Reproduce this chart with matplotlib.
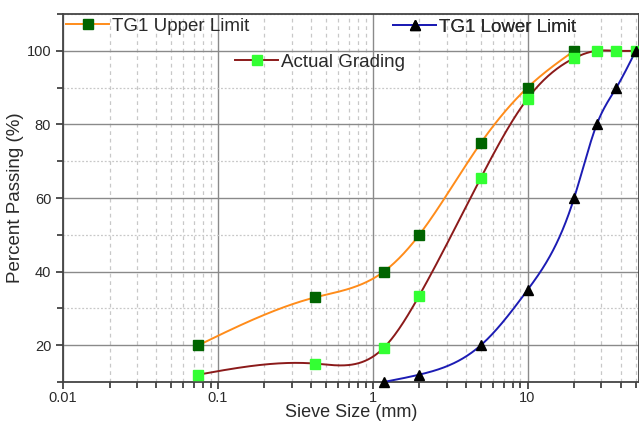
import numpy as np
import matplotlib
matplotlib.use("Agg")
import matplotlib.pyplot as plt
from matplotlib.ticker import FixedLocator, LogLocator, NullFormatter, FixedFormatter
from matplotlib.lines import Line2D

plt.rcParams['font.family'] = ['Liberation Sans', 'DejaVu Sans']

# ---- data ----
upper_sieve = [0.075, 0.425, 1.18, 2.0, 5.0, 10.0, 20.0]
upper_pass = [20, 33, 40, 50, 75, 90, 100]

actual_sieve = [0.075, 0.425, 1.18, 2.0, 5.0, 10.0, 20.0, 28.0, 37.5, 50.0]
actual_pass = [12, 15, 19.3, 33.5, 65.5, 87, 98, 100, 100, 100]

lower_sieve = [1.18, 2.0, 5.0, 10.0, 20.0, 28.0, 37.5, 50.0]
lower_pass = [10, 12, 20, 35, 60, 80, 90, 100]

x_ticks = [0.01, 0.1, 1, 10]
x_tick_labels = ["0.01", "0.1", "1", "10"]
y_ticks = [20, 40, 60, 80, 100]
y_minor = [10, 30, 50, 70, 90, 110]


def spline_curve(xs, ys, n=400):
    """Natural cubic spline through the points in log10(x) space (spline connection)."""
    t = np.log10(np.asarray(xs, float))
    y = np.asarray(ys, float)
    m = len(t)
    h = np.diff(t)
    A = np.zeros((m, m))
    b = np.zeros(m)
    A[0, 0] = 1
    A[-1, -1] = 1
    for i in range(1, m - 1):
        A[i, i - 1] = h[i - 1]
        A[i, i] = 2 * (h[i - 1] + h[i])
        A[i, i + 1] = h[i]
        b[i] = 6 * ((y[i + 1] - y[i]) / h[i] - (y[i] - y[i - 1]) / h[i - 1])
    M = np.linalg.solve(A, b)
    tt = np.linspace(t[0], t[-1], n)
    out = np.empty_like(tt)
    for k, tv in enumerate(tt):
        i = min(np.searchsorted(t, tv, side='right') - 1, m - 2)
        i = max(i, 0)
        a = t[i + 1] - tv
        c = tv - t[i]
        hi = h[i]
        out[k] = (M[i] * a ** 3 / (6 * hi) + M[i + 1] * c ** 3 / (6 * hi)
                  + (y[i] / hi - M[i] * hi / 6) * a
                  + (y[i + 1] / hi - M[i + 1] * hi / 6) * c)
    return 10 ** tt, out


fig = plt.figure(figsize=(6.39, 4.23), dpi=100)
ax = fig.add_axes([63 / 639, 1 - 382 / 423, 1 - 63 / 639, (382 - 14) / 423])

ax.set_xscale('log')
ax.set_xlim(0.01, 10 ** 1.72)
ax.set_ylim(10, 110)

c_up, c_act, c_low = '#ff8c1a', '#8b1a1a', '#1c1cb4'
m_up, m_act, m_low = '#006400', '#33ff33', 'black'

for xs, ys, lc, mc, mk, ms in [
        (upper_sieve, upper_pass, c_up, m_up, 's', 6.5),
        (actual_sieve, actual_pass, c_act, m_act, 's', 6.5),
        (lower_sieve, lower_pass, c_low, m_low, '^', 7.5)]:
    sx, sy = spline_curve(xs, ys)
    ax.plot(sx, sy, color=lc, lw=1.4, zorder=3, clip_on=False)
    ax.plot(xs, ys, ls='none', marker=mk, ms=ms, color=mc, zorder=4, clip_on=False)

# ticks and grid
ax.xaxis.set_major_locator(FixedLocator(x_ticks))
ax.xaxis.set_major_formatter(FixedFormatter(x_tick_labels))
ax.xaxis.set_minor_locator(LogLocator(base=10, subs=np.arange(2, 10)))
ax.xaxis.set_minor_formatter(NullFormatter())
ax.yaxis.set_major_locator(FixedLocator(y_ticks))
ax.yaxis.set_minor_locator(FixedLocator(y_minor))

ax.grid(which='major', color='#8a8a8a', lw=1.0, ls='-', zorder=1)
ax.xaxis.grid(which='minor', color='#c8c8c8', lw=0.9, ls=(0, (3, 3)))
ax.yaxis.grid(which='minor', color='#c8c8c8', lw=0.9, ls=(0, (1.5, 1.5)))
ax.set_axisbelow(True)

ax.tick_params(which='both', direction='out', top=False, right=False,
               color='#333333', width=1.2, labelsize=10.5, labelcolor='#2a2a2a')
ax.tick_params(which='major', length=5)
ax.tick_params(which='minor', length=4)
ax.tick_params(axis='x', pad=1.5)
for s in ax.spines.values():
    s.set_color('#444444')
    s.set_linewidth(1.3)

ax.set_xlabel('Sieve Size (mm)', fontsize=13, color='#2a2a2a')
ax.xaxis.set_label_coords(0.5, (382 - 404) / 368)
ax.set_ylabel('Percent Passing (%)', fontsize=13.5, color='#2a2a2a', labelpad=2)

# legends (three separate entries)
entries = [
    ('TG1 Upper Limit', c_up, m_up, 's', 6.5, (66, 26)),
    ('Actual Grading', c_act, m_act, 's', 6.5, (235, 62)),
    ('TG1 Lower Limit', c_low, m_low, '^', 7.5, (393, 27)),
]
for lab, lc, mc, mk, ms, (px, py) in entries:
    h = Line2D([], [], color=lc, lw=1.4, marker=mk, ms=ms,
               markerfacecolor=mc, markeredgecolor=mc)
    leg = ax.legend(handles=[h], labels=[lab], loc='center left',
                    bbox_to_anchor=(px / 639, 1 - py / 423),
                    bbox_transform=fig.transFigure, frameon=False,
                    fontsize=13.5, handlelength=2.3, handletextpad=0.15,
                    borderpad=0, borderaxespad=0, labelcolor='#2a2a2a')
    ax.add_artist(leg)

fig.savefig('out.png', dpi=100)
